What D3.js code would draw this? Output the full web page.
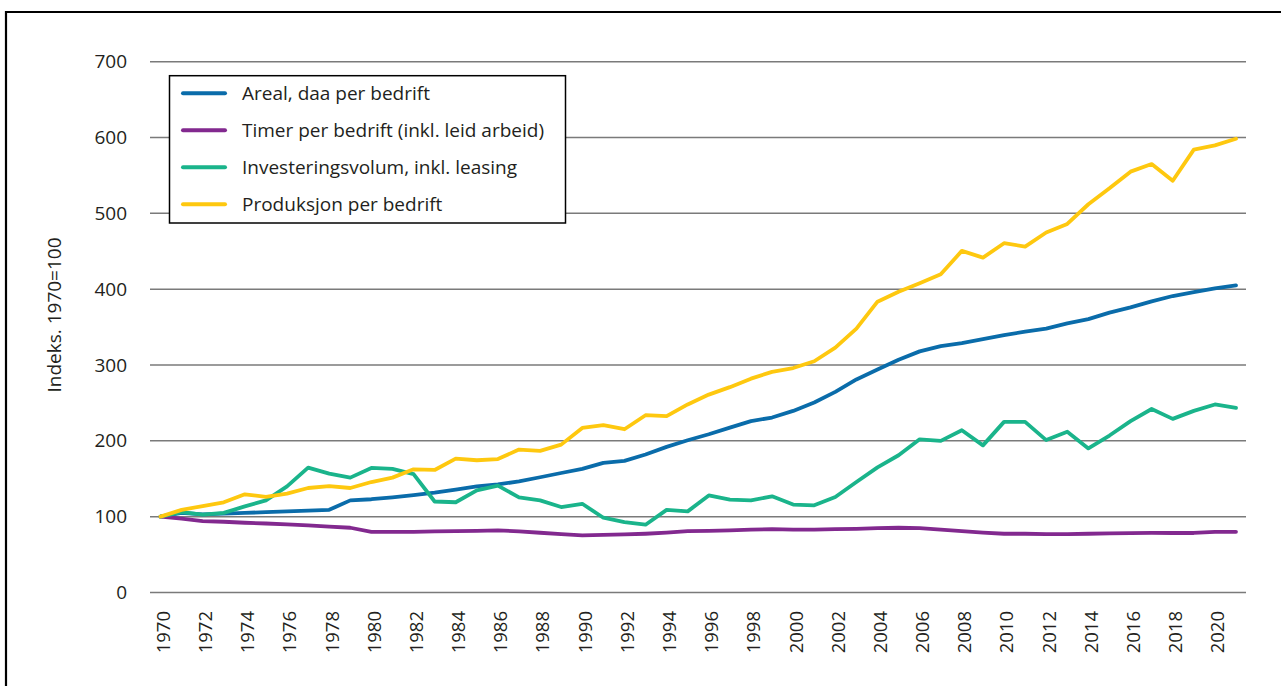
<!DOCTYPE html>
<html>
<head>
<meta charset="utf-8">
<script src="https://cdn.jsdelivr.net/npm/d3@7"></script>
<style>
  body { margin: 0; background: #fff; }
  svg { display: block; font-family: "Open Sans", "Noto Sans", sans-serif; }
</style>
</head>
<body>
<svg id="chart" width="1281" height="686"></svg>
<script>
const years = d3.range(1970, 2022)
const yTicks = [0, 100, 200, 300, 400, 500, 600, 700]
const xTicks = d3.range(1970, 2021, 2)

const seriesNames = [
  "Areal, daa per bedrift",
  "Timer per bedrift (inkl. leid arbeid)",
  "Investeringsvolum, inkl. leasing",
  "Produksjon per bedrift"
]
const seriesColors = ["#0a6caa", "#82298f", "#1ab48b", "#fec80f"]

const areal = [
  100, 105, 103, 104, 105, 106, 107, 108, 109, 121.5,
  123, 125.5, 128.5, 131.7, 135.6, 140, 142.5, 146.6, 152, 157.6,
  163, 171, 173.5, 182, 192, 200.8, 208.7, 217.5, 226, 230.7,
  239.5, 250.6, 264.6, 281, 294, 307, 318, 325, 329, 334,
  339.5, 344, 348, 355, 360.6, 369, 376, 384, 391, 396,
  401, 405
]
const timer = [
  100, 97.4, 94.2, 93.3, 92, 91, 89.8, 88.5, 87, 85.4,
  80, 80, 80, 80.5, 81, 81.4, 82, 80.6, 78.8, 77,
  75.3, 76, 76.6, 77.5, 79, 81, 81.4, 82, 83, 83.5,
  82.8, 83, 83.5, 84, 85, 85.4, 85, 83, 81, 79,
  77.5, 77.5, 77, 77, 77.5, 78, 78.3, 78.5, 78.5, 78.5,
  80, 80
]
const investering = [
  100, 106, 102.6, 105, 113.6, 121.5, 140, 164.7, 156.8, 151.5,
  164.3, 163, 156, 120, 119, 134.7, 141, 125.5, 121.5, 112.7,
  117, 98.6, 92.9, 89.4, 109, 107, 128, 122.4, 121.5, 126.8,
  116, 115, 126, 145.7, 165, 181, 202, 200, 214, 194,
  225, 225, 201, 212, 190, 207, 226, 242, 229, 239.5,
  248, 243.5
]
const produksjon = [
  100, 109, 114, 119, 129.5, 126, 130.4, 137.8, 140.4, 137.8,
  145.7, 151.5, 162.5, 161.6, 176.6, 174.4, 176, 188.5, 186.7, 195,
  217, 220.6, 215.3, 233.8, 232.5, 248, 261, 270.8, 282, 291,
  296, 305, 323, 348, 383.5, 396.7, 407.8, 419.6, 450.5, 441.6,
  460.6, 456.2, 474.7, 486, 512, 533, 555, 565, 543, 584,
  589.6, 598.4
]

const series = [areal, timer, investering, produksjon].map((values, i) => ({
  name: seriesNames[i],
  color: seriesColors[i],
  values: values.map((v, j) => ({year: years[j], value: v}))
}))

const svg = d3.select("#chart")

// frame round the figure (right and bottom sides fall outside the picture)
svg.append("path")
  .attr("d", "M6,700V12H1300")
  .attr("fill", "none")
  .attr("stroke", "#000")
  .attr("stroke-width", 2.2)

const x = d3.scaleLinear().domain([1970, 2021]).range([160.5, 1236])
const y = d3.scaleLinear().domain([0, 700]).range([592.5, 61.7])

// gridlines
svg.append("g")
  .selectAll("line")
  .data(yTicks)
  .join("line")
    .attr("x1", 150)
    .attr("x2", 1246)
    .attr("y1", d => y(d))
    .attr("y2", d => y(d))
    .attr("stroke", "#7a7a7a")
    .attr("stroke-width", 1.5)

// y axis labels
const yAxis = svg.append("g")
  .attr("transform", "translate(127,0)")
  .call(d3.axisLeft(y).tickValues(yTicks).tickSize(0).tickPadding(0))
yAxis.select(".domain").remove()
yAxis.selectAll("text")
  .attr("font-size", 19)
  .attr("font-family", "Open Sans")
  .attr("fill", "#231f20")

// x axis labels, rotated
const xAxis = svg.append("g")
  .attr("transform", "translate(0,611)")
  .call(d3.axisBottom(x).tickValues(xTicks).tickFormat(d3.format("d")).tickSize(0))
xAxis.select(".domain").remove()
xAxis.selectAll("text")
  .attr("font-size", 18.5)
  .attr("font-family", "Open Sans")
  .attr("fill", "#231f20")
  .attr("text-anchor", "end")
  .attr("x", 0)
  .attr("y", 0)
  .attr("dy", "0.48em")
  .attr("transform", "rotate(-90)")

// y title
svg.append("text")
  .text("Indeks. 1970=100")
  .attr("transform", "translate(61,315) rotate(-90)")
  .attr("text-anchor", "middle")
  .attr("font-size", 19)
  .attr("fill", "#231f20")

// lines
const line = d3.line()
  .x(d => x(d.year))
  .y(d => y(d.value))

svg.append("g")
  .selectAll("path")
  .data(series)
  .join("path")
    .attr("d", d => line(d.values))
    .attr("fill", "none")
    .attr("stroke", d => d.color)
    .attr("stroke-width", 3.8)
    .attr("stroke-linejoin", "round")
    .attr("stroke-linecap", "round")

// legend
const legend = svg.append("g")
legend.append("rect")
  .attr("x", 169.5)
  .attr("y", 75.7)
  .attr("width", 396)
  .attr("height", 147.3)
  .attr("fill", "#fff")
  .attr("stroke", "#000")
  .attr("stroke-width", 1.5)

const rowY = d3.scalePoint().domain(seriesNames).range([93.3, 204.3])
const rows = legend.selectAll("g.row")
  .data(series)
  .join("g")
    .attr("class", "row")
    .attr("transform", d => `translate(0,${rowY(d.name)})`)
rows.append("line")
  .attr("x1", 183)
  .attr("x2", 225)
  .attr("stroke", d => d.color)
  .attr("stroke-width", 4)
  .attr("stroke-linecap", "round")
rows.append("text")
  .text(d => d.name)
  .attr("x", 242)
  .attr("dy", "0.35em")
  .attr("font-size", 19)
  .attr("fill", "#231f20")
</script>
</body>
</html>
